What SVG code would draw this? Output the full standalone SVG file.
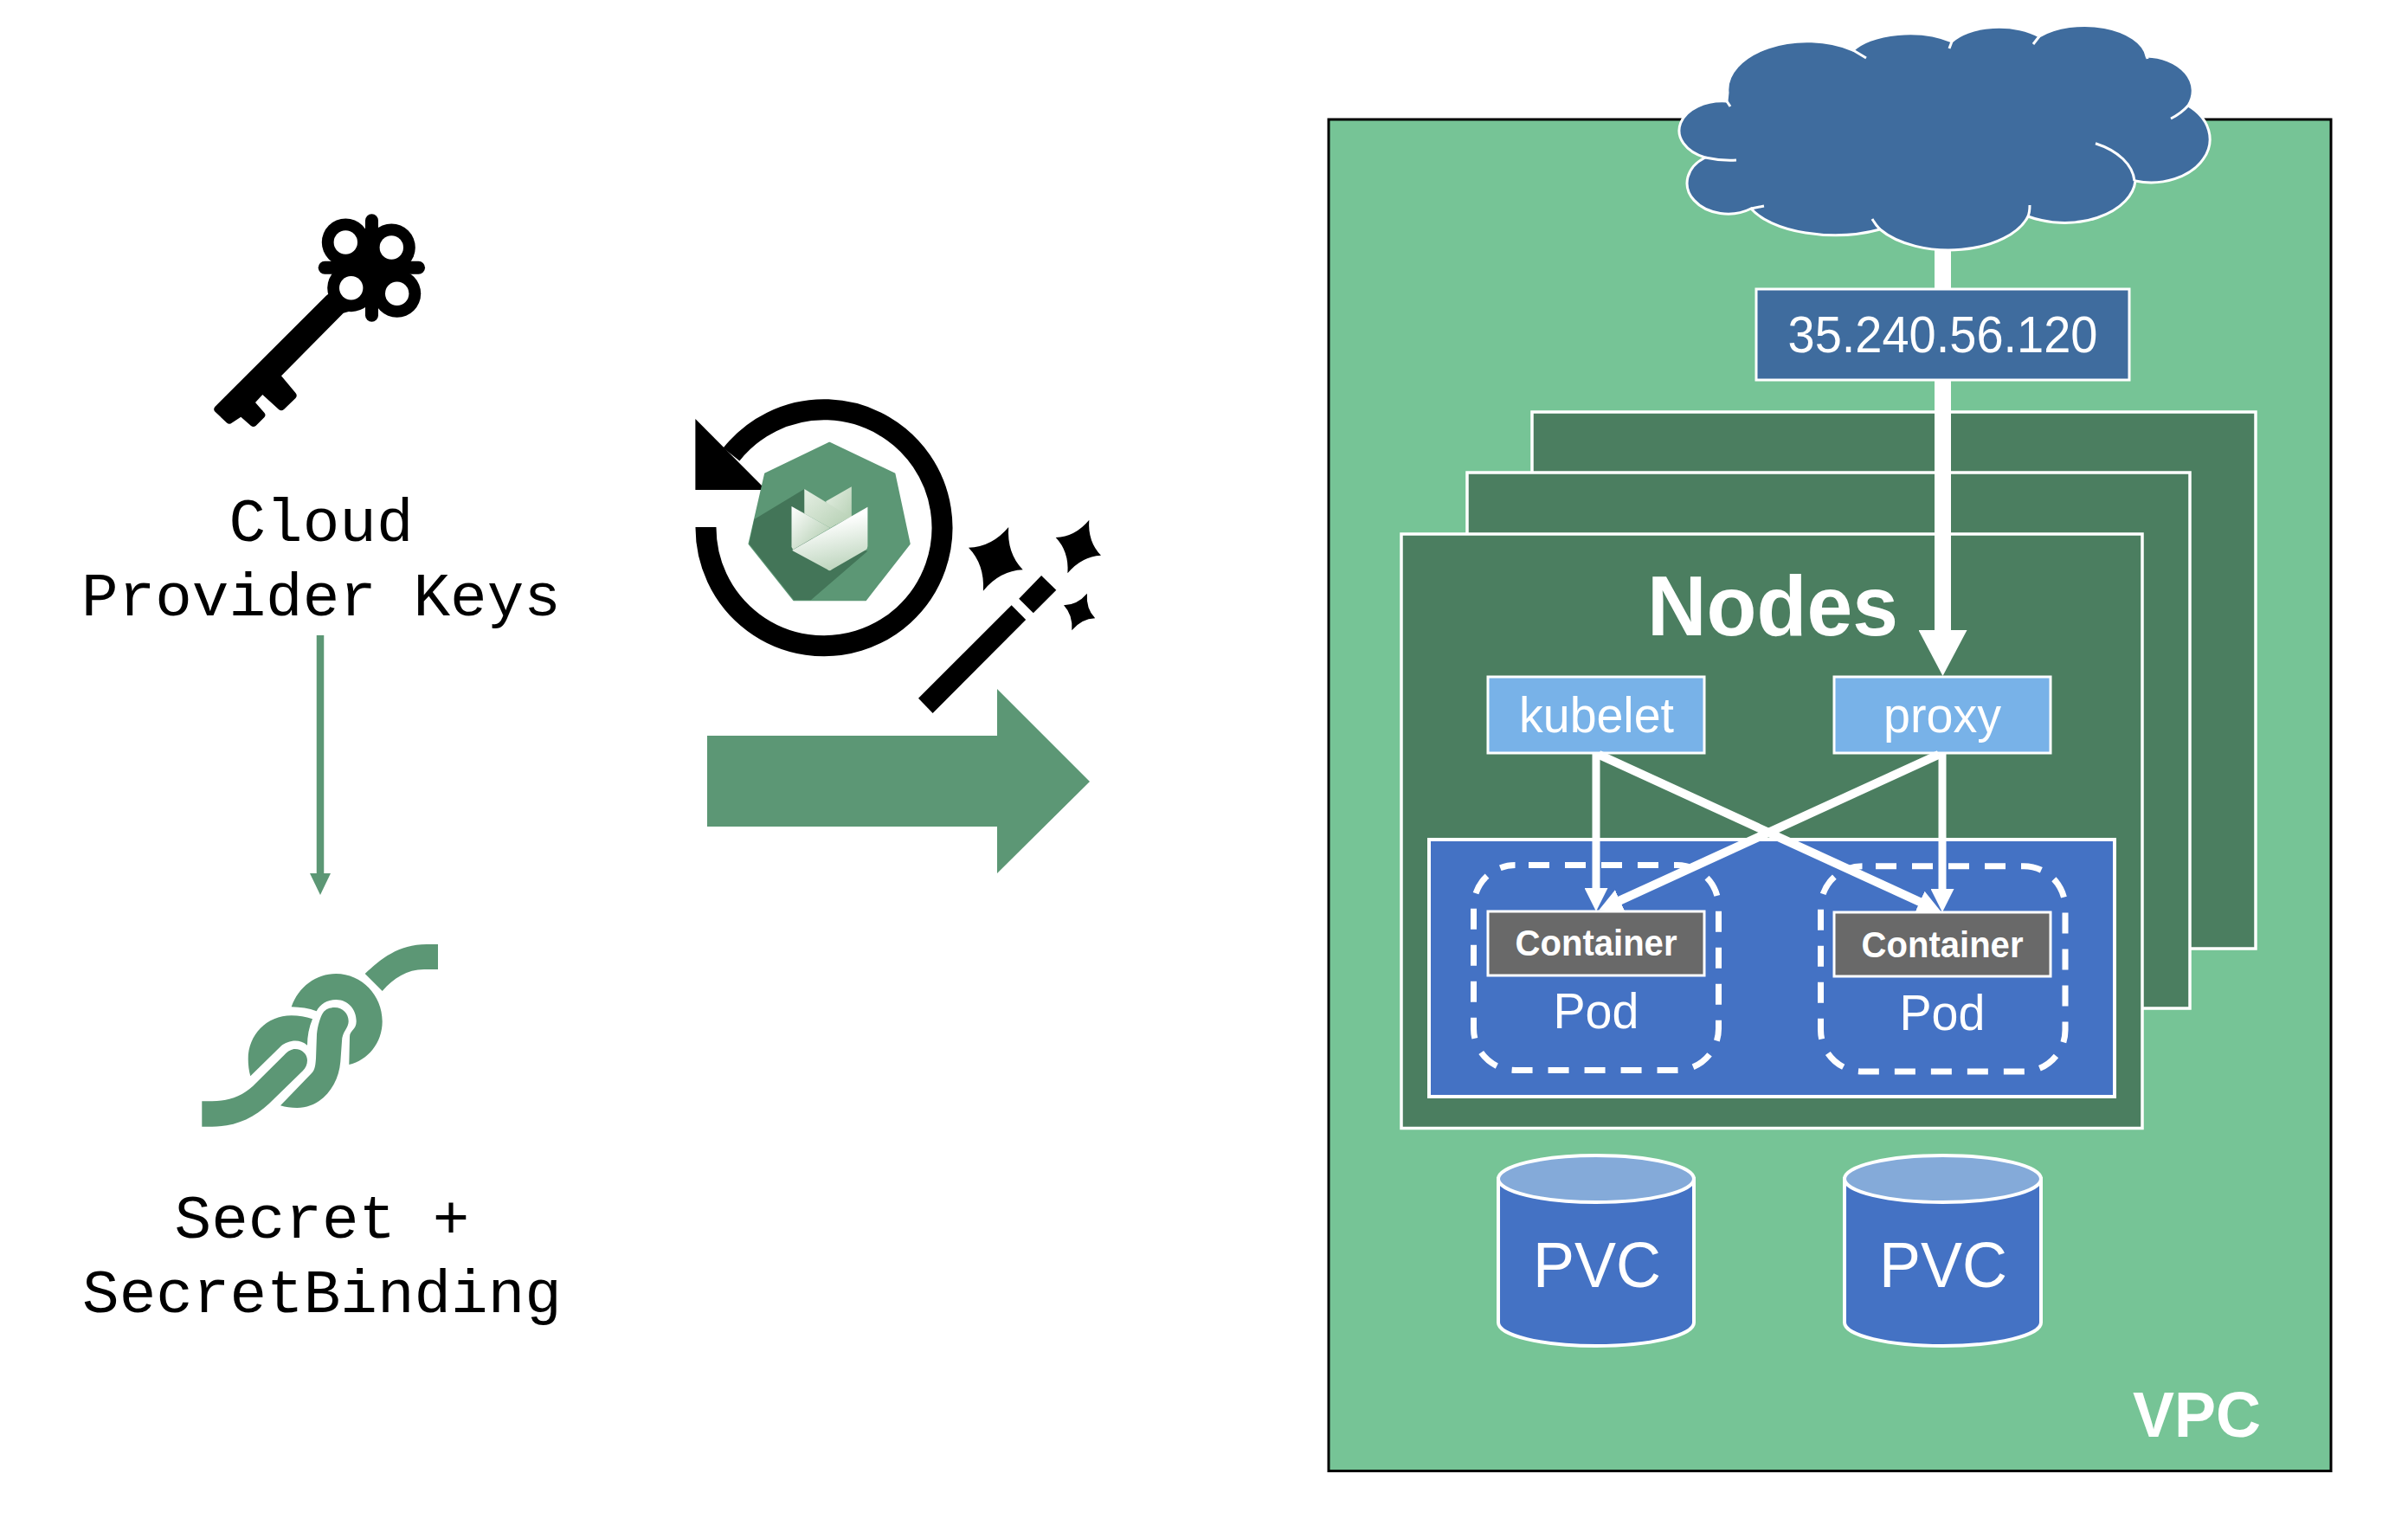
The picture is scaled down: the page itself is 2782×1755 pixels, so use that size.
<svg xmlns="http://www.w3.org/2000/svg" width="2782" height="1755" viewBox="0 0 2782 1755">
<style>
text{font-family:"Liberation Sans",Arial,sans-serif;fill:#fff;text-anchor:middle}
.mono{font-family:"Liberation Mono","Courier New",monospace;fill:#000;font-size:71px}
.b{font-weight:700}
.stack{fill:#4b7e60;stroke:#fff;stroke-width:3.5}
.lb{fill:#78b2e8;stroke:#fff;stroke-width:3}
.ct{fill:#696969;stroke:#fff;stroke-width:3}
.pod{fill:none;stroke:#fff;stroke-width:7;stroke-dasharray:24 18;stroke-dashoffset:26.5}
.pvc{fill:#4472c4;stroke:#fff;stroke-width:4}
.pvt{fill:#84aad9;stroke:#fff;stroke-width:4}
.g{fill:#5c9775}
.ln{stroke:#fff;stroke-width:9;fill:none}
.dg{stroke:#fff;stroke-width:10;fill:none}
.seam{fill:none;stroke:#fff;stroke-width:3}
</style>
<defs>
<marker id="ah" markerUnits="userSpaceOnUse" markerWidth="27" markerHeight="27" viewBox="0 0 27 27" refX="6" refY="13.5" orient="auto"><path d="M0 0L27 13.5L0 27Z" fill="#fff"/></marker>
<marker id="ahb" markerUnits="userSpaceOnUse" markerWidth="53" markerHeight="56" viewBox="0 0 53 56" refX="2" refY="28" orient="auto"><path d="M0 0L53 28L0 56Z" fill="#fff"/></marker>
<marker id="ahg" markerUnits="userSpaceOnUse" markerWidth="25" markerHeight="24" viewBox="0 0 25 24" refX="2" refY="12" orient="auto"><path d="M0 0L25 12L0 24Z" fill="#5c9775"/></marker>
<linearGradient id="t1" x1="0" y1="0" x2="1" y2="1"><stop offset="0" stop-color="#ffffff"/><stop offset="1" stop-color="#aac8a8"/></linearGradient>
<linearGradient id="t2" x1="0" y1="0" x2="1" y2="1"><stop offset="0" stop-color="#e6efe4"/><stop offset="1" stop-color="#b4cfb2"/></linearGradient>
<linearGradient id="t3" x1="0.55" y1="0.2" x2="0.75" y2="1"><stop offset="0" stop-color="#ffffff"/><stop offset="1" stop-color="#b9d2b9"/></linearGradient>
</defs>

<g id="key">
<g fill="#000"><circle cx="399.3" cy="280" r="27.5"/><circle cx="452.3" cy="286" r="27.5"/><circle cx="405.7" cy="332.7" r="27.5"/><circle cx="458.7" cy="339.3" r="27.5"/>
<path d="M400 285H450V340H400Z"/>
<path d="M376.7 341.7L248.3 470Q246 473 248.3 475.5L262 488.5Q265 491 268 488.5L278.3 481.7L290 492Q292.7 494 295.5 492L305.5 482Q307.5 479.5 305.5 477L295 465L303.3 456L322 473Q325 475.5 328 473L341.5 460Q344 457 341.5 454L325 434.3L396.7 361.7L420 355L430 300Z"/>
<rect x="422" y="247.3" width="15" height="124.4" rx="7.5"/><rect x="367.7" y="301.8" width="123.3" height="15" rx="7.5"/></g>
<g fill="#fff"><circle cx="399.3" cy="280" r="13.7"/><circle cx="452.3" cy="286" r="13.7"/><circle cx="405.7" cy="332.7" r="13.7"/><circle cx="458.7" cy="339.3" r="13.7"/></g>
</g>
<g id="cloud-provider-keys"><text class="mono" x="371" y="625">Cloud</text><text class="mono" x="371" y="711">Provider Keys</text></g>

<g id="knot" class="g">
<path d="M421.7 1125C440 1108 460 1091 493 1091L506 1091L506 1120L490 1120C470 1120 455 1130 441.7 1145Z"/>
<path d="M336.7 1163.3C345 1140 365 1125 388.3 1125C418 1125 441.7 1150 441.7 1180C441.7 1205 425 1225 403.3 1230L404 1198C404 1190 411.7 1190 411.7 1180C411.7 1166 402 1155 388.3 1155C378 1155 370 1160 365.7 1168.3C357 1165 347 1163.5 336.7 1163.3Z"/>
<path d="M361 1177.3C353 1174.5 345 1173.3 336.7 1173.3C308 1173.3 286.7 1196 286.7 1223.3C286.7 1230 287.5 1237 289.3 1243.3L325 1208.3C332 1203 345 1199 355 1207.7C355 1197 357 1187 361 1177.3Z"/>
<path d="M386.7 1164C396 1164 402.7 1171 402.7 1180C402.7 1188 395 1192 395 1203L393.3 1226.7C391 1256 370 1280 343.3 1280C336 1280 330 1279 324 1277.3L360 1240C364 1236 364.5 1230 365 1223L366 1195C367 1185 370 1175 373.3 1170C376 1166 381 1164 386.7 1164Z"/>
<path d="M233.3 1272.3L245 1272.3C265 1272.3 280 1266 292 1255L328.3 1219C333 1214 337 1212 341 1212C349 1212 355 1218 355 1225C355 1230 353 1234 350 1237L311 1275C292 1293 270 1301.7 245 1301.7L233.3 1301.7Z"/>
</g>
<g id="secret-binding"><text class="mono" x="372" y="1430">Secret +</text><text class="mono" x="372" y="1516">SecretBinding</text></g>

<g id="reconcile">
<path d="M815.5 609A136.5 136.5 0 1 0 845 525" fill="none" stroke="#000" stroke-width="24"/>
<path d="M803.4 484V566H885Z" fill="#000"/>
<path d="M958.3 511.7L1033.4 547.3L1050.7 628.3L1000 693.3H917.2L865.5 628.3L884.1 547.3Z" class="g" stroke="#5c9775" stroke-width="2" stroke-linejoin="round"/>
<path d="M929.3 565L871.4 600L865.5 628.3L917.2 693.3H936.9L1002.4 636.7L930 620Z" fill="#437558"/>
<path d="M954.1 579.3L983.8 562.3V596.7L966 606Z" fill="url(#t2)"/>
<path d="M929.3 565L981.7 596.7L959.3 610L929.3 593.3Z" fill="url(#t2)"/>
<path d="M914.5 585L959.3 610L916.2 635L914.5 632Z" fill="url(#t1)"/>
<path d="M1002.4 585.7V631Q1002.4 634 1000 635.5L961 658Q958.5 660.5 955.9 658L917 637Q915.5 636 915.2 635.7Z" fill="url(#t3)"/>
</g>
<g id="wand" fill="#000">
<path d="M1061 806.7L1077.6 824L1185.2 716L1168.6 699.3Z"/>
<path d="M1203.1 665L1220.3 681.7L1193.8 708.3L1177.2 691.7Z"/>
<path d="M1165.2 609Q1163.1 639.1 1181.7 658.3Q1155 659.4 1135.9 682.7Q1137.8 652.3 1119 632.7Q1145.8 632.1 1165.2 609Z"/>
<path d="M1258.3 600.7Q1256.5 625.9 1272 641.7Q1249.6 642.9 1233.4 662.3Q1235.2 637.2 1219.7 621Q1242.1 620.2 1258.3 600.7Z"/>
<path d="M1255.9 685.7Q1254.5 703.1 1265.2 714.3Q1249.7 714.8 1238.3 728.3Q1239.7 710.7 1229 699.3Q1244.6 698.9 1255.9 685.7Z"/>
</g>
<g id="big-arrow"><path class="g" d="M817 850H1152V796L1259 903L1152 1009V955H817Z"/></g>

<g id="vpc"><rect x="1535" y="138" width="1158" height="1561.5" fill="#76c496" stroke="#000" stroke-width="3"/><text class="b" x="2538" y="1660" font-size="74" textLength="148" lengthAdjust="spacingAndGlyphs">VPC</text></g>
<g id="node-rear"><rect class="stack" x="1770" y="476" width="836" height="620"/></g>
<g id="node-mid"><rect class="stack" x="1695" y="546" width="835" height="619"/></g>
<g id="node-front"><rect class="stack" x="1619" y="617" width="856" height="686.5"/><text class="b" x="2048" y="734" font-size="99" textLength="290" lengthAdjust="spacingAndGlyphs">Nodes</text></g>
<g id="pods-area"><rect x="1651" y="970" width="792" height="297" fill="#4472c4" stroke="#fff" stroke-width="4"/></g>
<g id="pod-left"><path class="pod" d="M1750.5 999.5H1937.5A48 48 0 0 1 1985.5 1047.5V1188.5A48 48 0 0 1 1937.5 1236.5H1750.5A48 48 0 0 1 1702.5 1188.5V1047.5A48 48 0 0 1 1750.5 999.5Z"/><rect class="ct" x="1719" y="1053" width="250" height="74"/><text class="b" x="1844" y="1104" font-size="42" textLength="187" lengthAdjust="spacingAndGlyphs">Container</text><text x="1844" y="1188" font-size="58" textLength="99" lengthAdjust="spacingAndGlyphs">Pod</text></g>
<g id="pod-right"><path class="pod" d="M2151.5 1000.7H2338A48 48 0 0 1 2386 1048.7V1190A48 48 0 0 1 2338 1238H2151.5A48 48 0 0 1 2103.5 1190V1048.7A48 48 0 0 1 2151.5 1000.7Z"/><rect class="ct" x="2119" y="1054" width="250" height="74"/><text class="b" x="2244" y="1106" font-size="42" textLength="187" lengthAdjust="spacingAndGlyphs">Container</text><text x="2244" y="1190" font-size="58" textLength="99" lengthAdjust="spacingAndGlyphs">Pod</text></g>
<g id="kubelet"><rect class="lb" x="1719" y="782" width="250" height="88"/><text x="1844.5" y="846" font-size="58" textLength="179" lengthAdjust="spacingAndGlyphs">kubelet</text></g>
<g id="proxy"><rect class="lb" x="2119" y="782" width="250" height="88"/><text x="2244" y="846" font-size="58" textLength="136" lengthAdjust="spacingAndGlyphs">proxy</text></g>
<g id="pvc-left"><path class="pvc" d="M1731 1362V1528C1731 1543 1781.5 1555 1844 1555C1906.5 1555 1957 1543 1957 1528V1362Z"/><ellipse class="pvt" cx="1844" cy="1362" rx="113" ry="27"/><text x="1845" y="1487" font-size="75" textLength="148" lengthAdjust="spacingAndGlyphs">PVC</text></g>
<g id="pvc-right"><path class="pvc" d="M2131 1362V1528C2131 1543 2181.5 1555 2244.5 1555C2307.5 1555 2358 1543 2358 1528V1362Z"/><ellipse class="pvt" cx="2244.5" cy="1362" rx="113.5" ry="27"/><text x="2245" y="1487" font-size="75" textLength="148" lengthAdjust="spacingAndGlyphs">PVC</text></g>

<g id="connectors">
<line x1="370" y1="734" x2="370" y2="1011" stroke="#5c9775" stroke-width="8.5" marker-end="url(#ahg)"/>
<line x1="2244.5" y1="280" x2="2244.5" y2="730" stroke="#fff" stroke-width="19" marker-end="url(#ahb)"/>
<line class="ln" x1="1844" y1="870" x2="1844" y2="1032" marker-end="url(#ah)"/>
<line class="ln" x1="2244" y1="870" x2="2244" y2="1033" marker-end="url(#ah)"/>
<line class="dg" x1="1847" y1="871.7" x2="2223.4" y2="1044.5" marker-end="url(#ah)"/>
<line class="dg" x1="2240" y1="871.7" x2="1866.1" y2="1042.9" marker-end="url(#ah)"/>
</g>

<g id="internet-cloud">
<path d="M1996 107A92 56 0 0 1 2141 58A72 34 0 0 1 2255 48A62 32 0 0 1 2356 42A72 40 0 0 1 2480 65A55 40 0 0 1 2528 122A68 50 0 0 1 2467 209A82 52 0 0 1 2343 250A95 53 0 0 1 2172 265A105 50 0 0 1 2023 241A40 30 0 0 1 1970 182A50 34 0 0 1 1995 117Z" fill="#3f6c9e" stroke="#fff" stroke-width="3"/>
<path class="seam" d="M1995 117L1999 123M2141 58L2156 67M2255 48L2252 56M2356 42L2349 51M2480 63L2481 68M2528 122Q2520 131 2508 137M2421 165.7A82 52 0 0 1 2466 209M2345 237Q2345 245 2343 250M2163 253Q2167 260 2172 265M2023 241L2038 238M1970 182Q1988 186 2006 185"/>
</g>
<g id="ip"><rect x="2029" y="334" width="431" height="105" fill="#3f6c9e" stroke="#fff" stroke-width="3"/><text x="2244.5" y="406.5" font-size="59" textLength="358" lengthAdjust="spacingAndGlyphs">35.240.56.120</text></g>
</svg>
